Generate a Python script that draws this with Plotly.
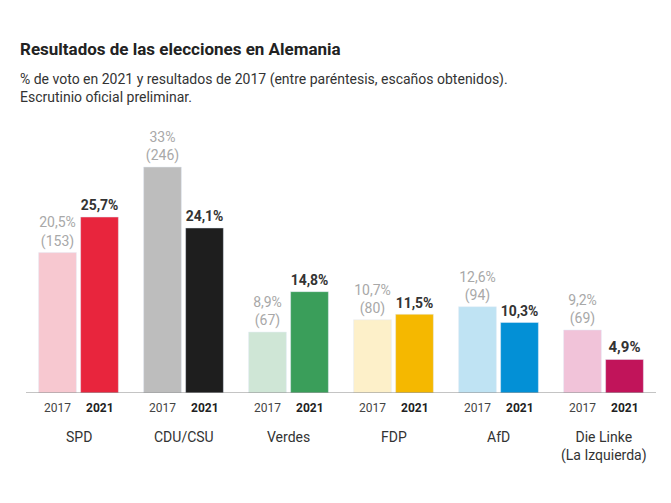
import plotly.graph_objects as go

parties = ["SPD", "CDU/CSU", "Verdes", "FDP", "AfD", "Die Linke<br>(La Izquierda)"]
votes_2017 = [20.5, 33.0, 8.9, 10.7, 12.6, 9.2]
seats_2017 = [153, 246, 67, 80, 94, 69]
votes_2021 = [25.7, 24.1, 14.8, 11.5, 10.3, 4.9]
colors_2017 = ["#f7c8d0", "#bdbdbd", "#cfe6d6", "#fdf0c9", "#bfe3f3", "#f1c3d9"]
colors_2021 = ["#e8253d", "#1e1e1e", "#3a9e5a", "#f5b800", "#0390d6", "#c1145a"]

def fmt(v):
    return (f"{v:.1f}".rstrip("0").rstrip(".")).replace(".", ",") + "%"

x = list(range(len(parties)))
fig = go.Figure()
fig.add_trace(go.Bar(
    x=x, y=votes_2017, width=0.36, offset=-0.38, marker_color=colors_2017,
    text=[f"{fmt(v)}<br>({s})" for v, s in zip(votes_2017, seats_2017)],
    textposition="outside", textfont=dict(color="#a8a8a8", size=14),
    cliponaxis=False, hoverinfo="skip"))
fig.add_trace(go.Bar(
    x=x, y=votes_2021, width=0.36, offset=0.02, marker_color=colors_2021,
    text=[f"<b>{fmt(v)}</b>" for v in votes_2021],
    textposition="outside", textfont=dict(color="#333", size=15),
    cliponaxis=False, hoverinfo="skip"))

ann = []
for i, p in enumerate(parties):
    ann.append(dict(x=i - 0.2, y=-0.096, yref="paper", text="2017", showarrow=False,
                    font=dict(size=12, color="#444")))
    ann.append(dict(x=i + 0.2, y=-0.096, yref="paper", text="<b>2021</b>", showarrow=False,
                    font=dict(size=12, color="#222")))
    ann.append(dict(x=i, y=-0.291 if "<br>" in p else -0.215, yref="paper", text=p, showarrow=False,
                    font=dict(size=14, color="#333")))
ann += [
    dict(xref="paper", yref="paper", x=-0.0127, y=1.37, xanchor="left", yanchor="middle", showarrow=False,
         text="<b>Resultados de las elecciones en Alemania</b>", font=dict(size=17, color="#222")),
    dict(xref="paper", yref="paper", x=-0.0127, y=1.215, xanchor="left", yanchor="middle", showarrow=False,
         align="left",
         text="% de voto en 2021 y resultados de 2017 (entre paréntesis, escaños obtenidos).<br>Escrutinio oficial preliminar.",
         font=dict(size=14, color="#333")),
]

fig.update_layout(
    width=671, height=503, margin=dict(l=18, r=23, t=134, b=118),
    plot_bgcolor="white", paper_bgcolor="white", showlegend=False,
    font=dict(family="Roboto, sans-serif"),
    xaxis=dict(range=[-0.5, 5.5], visible=False),
    yaxis=dict(range=[0, 36.65], visible=False),
    annotations=ann,
    shapes=[dict(type="line", xref="x", yref="y", x0=-0.5, x1=5.5, y0=0, y1=0,
                 line=dict(color="#888", width=1))],
)
fig.write_html("out.html")
